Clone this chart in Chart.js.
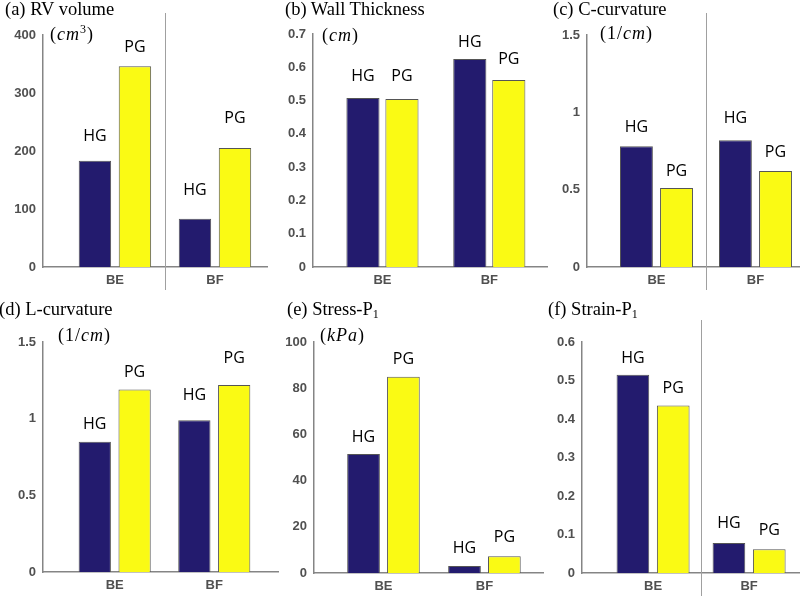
<!DOCTYPE html>
<html><head><meta charset="utf-8">
<script src="https://cdn.jsdelivr.net/npm/chart.js@4"></script>
<style>
html,body{margin:0;padding:0;background:#fff;width:800px;height:596px;overflow:hidden;position:relative;}
canvas{position:absolute;}
.t{position:absolute;font-family:"Liberation Serif","Times New Roman",serif;font-size:18.5px;color:#000;white-space:nowrap;line-height:1;}
.t sub{font-size:12px;vertical-align:-3px;line-height:0;}
.u{position:absolute;font-family:"Liberation Serif","Times New Roman",serif;font-size:18px;letter-spacing:1px;color:#000;white-space:nowrap;line-height:1;}
.u sup{font-size:12px;vertical-align:7px;line-height:0;}
</style></head><body>
<script>
// ---------- data ----------
const categories = ['BE', 'BF'];
const seriesNames = ['HG', 'PG'];

const rvVolumeHG = [183, 83];
const rvVolumePG = [346, 205];
const rvVolumeTicks = [0, 100, 200, 300, 400];

const wallThicknessHG = [0.508, 0.625];
const wallThicknessPG = [0.505, 0.562];
const wallThicknessTicks = [0, 0.1, 0.2, 0.3, 0.4, 0.5, 0.6, 0.7];

const cCurvatureHG = [0.78, 0.82];
const cCurvaturePG = [0.51, 0.62];
const cCurvatureTicks = [0, 0.5, 1, 1.5];

const lCurvatureHG = [0.85, 0.99];
const lCurvaturePG = [1.19, 1.22];
const lCurvatureTicks = [0, 0.5, 1, 1.5];

const stressHG = [51.5, 3];
const stressPG = [85, 7.3];
const stressTicks = [0, 20, 40, 60, 80, 100];

const strainHG = [0.515, 0.078];
const strainPG = [0.435, 0.062];
const strainTicks = [0, 0.1, 0.2, 0.3, 0.4, 0.5, 0.6];

const panelTitles = ['(a) RV volume', '(b) Wall Thickness', '(c) C-curvature', '(d) L-curvature', '(e) Stress-P<sub>1</sub>', '(f) Strain-P<sub>1</sub>'];
const panelUnits = ['(<i>cm</i><sup>3</sup>)', '(<i>cm</i>)', '(1/<i>cm</i>)', '(1/<i>cm</i>)', '(<i>kPa</i>)', ''];

// ---------- layout / style ----------
const NAVY = '#231B6E', YELLOW = '#FAFA14', EDGE = '#555555', AXIS = '#858585';
const WY = 40, HX = 22;
const panels = [
  {hg: rvVolumeHG, pg: rvVolumePG, ticks: rvVolumeTicks, box: [0, 0, 275, 298], axisX: 43, yTop: 35, yBottom: 267, xRight: 267, xMin: 0.281, xMax: 2.52, cp: 0.80, bp: 0.81,
   lift: [[24, 28], [19, 30]], divider: [13, 290], title: [5, 0], unit: [50, 25]},
  {hg: wallThicknessHG, pg: wallThicknessPG, ticks: wallThicknessTicks, box: [265, 0, 285, 298], axisX: 313, yTop: 34, yBottom: 267, xRight: 547, xMin: 0.35, xMax: 2.54, cp: 0.73, bp: 0.85,
   lift: [[21, 17], [22, 20]], divider: null, title: [285, 0], unit: [322, 26]},
  {hg: cCurvatureHG, pg: cCurvaturePG, ticks: cCurvatureTicks, box: [530, 0, 270, 298], axisX: 587, yTop: 35, yBottom: 267, xRight: 800, xMin: 0.298, xMax: 2.45, cp: 0.81, bp: 0.82,
   lift: [[19, 22], [17, 19]], divider: [13, 290], title: [553, 0], unit: [600, 24]},
  {hg: lCurvatureHG, pg: lCurvaturePG, ticks: lCurvatureTicks, box: [0, 298, 285, 298], axisX: 43, yTop: 342, yBottom: 572, xRight: 278, xMin: 0.28, xMax: 2.64, cp: 0.80, bp: 0.81,
   lift: [[17, 25], [17, 26]], divider: null, title: [-1, 300], unit: [58, 326]},
  {hg: stressHG, pg: stressPG, ticks: stressTicks, box: [265, 298, 285, 298], axisX: 314, yTop: 342, yBottom: 573, xRight: 543, xMin: 0.312, xMax: 2.58, cp: 0.79, bp: 0.82,
   lift: [[17, 18], [17, 19]], divider: null, title: [287, 300], unit: [320, 326]},
  {hg: strainHG, pg: strainPG, ticks: strainTicks, box: [530, 298, 270, 298], axisX: 582, yTop: 342, yBottom: 573, xRight: 800, xMin: 0.26, xMax: 2.53, cp: 0.84, bp: 0.81,
   lift: [[16, 20], [17, 19]], divider: [320, 596], title: [548, 300], unit: null}
];

const barLabels = {
  id: 'barLabels',
  afterDatasetsDraw(chart, args, opts) {
    const ctx = chart.ctx;
    ctx.save();
    ctx.font = '16px "Open Sans", "Noto Sans", sans-serif';
    ctx.fillStyle = '#000';
    ctx.textAlign = 'center';
    ctx.textBaseline = 'middle';
    chart.data.datasets.forEach((ds, di) => {
      chart.getDatasetMeta(di).data.forEach((bar, i) => {
        ctx.fillText(ds.label, bar.x, bar.y - opts.lift[di][i]);
      });
    });
    if (opts.divider) {
      const x = Math.round(chart.scales.x.getPixelForValue(1.5)) + 0.5;
      ctx.strokeStyle = '#a0a0a0';
      ctx.lineWidth = 1;
      ctx.beginPath();
      ctx.moveTo(x, opts.divider[0] - opts.top);
      ctx.lineTo(x, opts.divider[1] - opts.top);
      ctx.stroke();
    }
    ctx.restore();
  }
};

const tickFont = {family: '"Liberation Sans", Arial, sans-serif', size: 13, weight: 'bold'};

panels.forEach((p, k) => {
  const [l, t, w, h] = p.box;
  const cv = document.createElement('canvas');
  cv.width = w; cv.height = h;
  cv.style.left = l + 'px'; cv.style.top = t + 'px';
  cv.style.width = w + 'px'; cv.style.height = h + 'px';
  document.body.appendChild(cv);

  const mk = (vals) => vals.map((v, i) => ({x: i + 1, y: v}));
  new Chart(cv, {
    type: 'bar',
    data: {
      datasets: [
        {label: seriesNames[0], data: mk(p.hg), backgroundColor: NAVY, borderColor: EDGE, borderWidth: 1, categoryPercentage: p.cp, barPercentage: p.bp},
        {label: seriesNames[1], data: mk(p.pg), backgroundColor: YELLOW, borderColor: EDGE, borderWidth: 1, categoryPercentage: p.cp, barPercentage: p.bp}
      ]
    },
    options: {
      responsive: false,
      animation: false,
      devicePixelRatio: 1,
      layout: {padding: {left: p.axisX - l - WY, top: p.yTop - t, right: l + w - p.xRight, bottom: t + h - p.yBottom - HX}},
      plugins: {legend: {display: false}, tooltip: {enabled: false},
        barLabels: {lift: p.lift, divider: p.divider, top: t}},
      scales: {
        x: {
          type: 'linear', min: p.xMin, max: p.xMax, offset: false,
          afterBuildTicks: (s) => { s.ticks = categories.map((c, i) => ({value: i + 1})); },
          afterFit: (s) => { s.height = HX; },
          grid: {display: false, drawTicks: false, offset: false},
          border: {display: true, color: AXIS, width: 1.5},
          ticks: {autoSkip: false, maxRotation: 0, padding: 6, color: '#505050', font: tickFont,
            callback: (v) => categories[Math.round(v) - 1]}
        },
        y: {
          min: p.ticks[0], max: p.ticks[p.ticks.length - 1],
          afterBuildTicks: (s) => { s.ticks = p.ticks.map(v => ({value: v})); },
          afterFit: (s) => { s.width = WY; },
          grid: {display: false, drawTicks: false},
          border: {display: true, color: AXIS, width: 1.5},
          ticks: {autoSkip: false, padding: 7, color: '#505050', font: tickFont,
            callback: (v) => String(v)}
        }
      }
    },
    plugins: [barLabels]
  });

  const tt = document.createElement('div');
  tt.className = 't';
  tt.innerHTML = panelTitles[k];
  tt.style.left = p.title[0] + 'px'; tt.style.top = p.title[1] + 'px';
  document.body.appendChild(tt);
  if (p.unit) {
    const u = document.createElement('div');
    u.className = 'u';
    u.innerHTML = panelUnits[k];
    u.style.left = p.unit[0] + 'px'; u.style.top = p.unit[1] + 'px';
    document.body.appendChild(u);
  }
});
</script>
</body></html>
